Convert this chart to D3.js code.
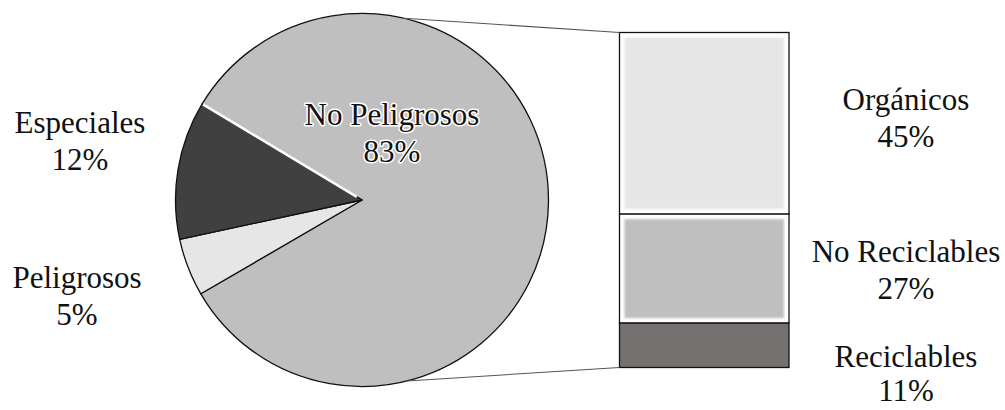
<!DOCTYPE html>
<html>
<head>
<meta charset="utf-8">
<script src="https://cdn.jsdelivr.net/npm/d3@7"></script>
<style>
  html, body { margin: 0; padding: 0; background: #ffffff; }
  svg { display: block; }
  text { font-family: "Liberation Serif", "Times New Roman", serif; fill: #111; }
</style>
</head>
<body>
<svg id="chart" width="1005" height="410"></svg>
<script>
// ---- data ----
const pieCategories = ["No Peligrosos", "Peligrosos", "Especiales"];
const pieValues = [83, 5, 12];
const barCategories = ["Orgánicos", "No Reciclables", "Reciclables"];
const barValues = [45, 27, 11];

// ---- styles ----
const pieColors = ["#bfbfbf", "#e7e6e6", "#404040"];
const barColors = ["#e7e6e6", "#bfbfbf", "#767171"];

const svg = d3.select("#chart");

// defs: soft blur for bevel look
const defs = svg.append("defs");
defs.append("filter").attr("id", "soft")
  .append("feGaussianBlur").attr("stdDeviation", 1);

// ---- pie ----
const cx = 362, cy = 200, R = 186.5;
const startA = -59 * Math.PI / 180;
const pie = d3.pie().sort(null).startAngle(startA).endAngle(startA + 2 * Math.PI);
const arcs = pie(pieValues);
const arc = d3.arc().innerRadius(0).outerRadius(R);

const gPie = svg.append("g").attr("transform", `translate(${cx},${cy})`);
gPie.selectAll("path.slice").data(arcs).join("path")
  .attr("class", "slice")
  .attr("d", arc)
  .attr("fill", (d, i) => pieColors[i])
  .attr("stroke", "#111")
  .attr("stroke-width", 1.3)
  .attr("stroke-linejoin", "round");

// white highlight on the boundary at the start of the first slice
const a0 = arcs[0].startAngle;
gPie.append("line")
  .attr("x1", 6 * Math.sin(a0)).attr("y1", -6 * Math.cos(a0))
  .attr("x2", (R - 1) * Math.sin(a0)).attr("y2", -(R - 1) * Math.cos(a0))
  .attr("stroke", "#ffffff").attr("stroke-width", 2.6);

// ---- bar (stacked) ----
const barX0 = 619.5, barX1 = 789;
const total = d3.sum(barValues);
const y = d3.scaleLinear().domain([0, total]).range([32.5, 367.5]);
const stack = [];
let acc = 0;
barValues.forEach((v, i) => { stack.push({ i, name: barCategories[i], v, y0: acc, y1: acc + v }); acc += v; });

const gBar = svg.append("g");
gBar.selectAll("rect.outer").data(stack).join("rect")
  .attr("class", "outer")
  .attr("x", barX0).attr("width", barX1 - barX0)
  .attr("y", d => y(d.y0)).attr("height", d => y(d.y1) - y(d.y0))
  .attr("fill", d => d.i === 2 ? barColors[d.i] : "#ffffff")
  .attr("stroke", "#111").attr("stroke-width", 1.3);
gBar.selectAll("rect.inner").data(stack.filter(d => d.i !== 2)).join("rect")
  .attr("class", "inner")
  .attr("x", barX0 + 5).attr("width", barX1 - barX0 - 10)
  .attr("y", d => y(d.y0) + 5).attr("height", d => y(d.y1) - y(d.y0) - 10)
  .attr("fill", d => barColors[d.i])
  .attr("filter", "url(#soft)");

// ---- connector lines ----
const connAngles = [13 * Math.PI / 180, 166 * Math.PI / 180];
const conn = [
  { a: connAngles[0], bx: barX0, by: y(0) },
  { a: connAngles[1], bx: barX0, by: y(total) }
];
svg.selectAll("line.conn").data(conn).join("line")
  .attr("class", "conn")
  .attr("x1", d => cx + R * Math.sin(d.a)).attr("y1", d => cy - R * Math.cos(d.a))
  .attr("x2", d => d.bx).attr("y2", d => d.by)
  .attr("stroke", "#555").attr("stroke-width", 1.1);

// ---- labels ----
const fs = 31, lh = 36.5;
function label(x, yBase, lines, halo, lineH) {
  const t = svg.append("text")
    .attr("text-anchor", "middle")
    .attr("font-size", fs);
  if (halo) {
    t.attr("stroke", "#ffffff").attr("stroke-width", 3)
     .attr("paint-order", "stroke").attr("stroke-linejoin", "round");
  }
  lines.forEach((s, k) => t.append("tspan").attr("x", x).attr("y", yBase + k * (lineH || lh)).text(s));
}
const pct = v => v + "%";
const pieLabelPos = [[392, 125, true], [77, 288, false], [80, 133, false]];
pieCategories.forEach((c, i) => {
  const p = pieLabelPos[i];
  label(p[0], p[1], [c, pct(pieValues[i])], p[2]);
});
const barLabelX = 906;
const barLabelY = [110, 262, 367];
const barLabelLH = [36.5, 36.5, 34];
barCategories.forEach((c, i) => label(barLabelX, barLabelY[i], [c, pct(barValues[i])], false, barLabelLH[i]));
</script>
</body>
</html>
